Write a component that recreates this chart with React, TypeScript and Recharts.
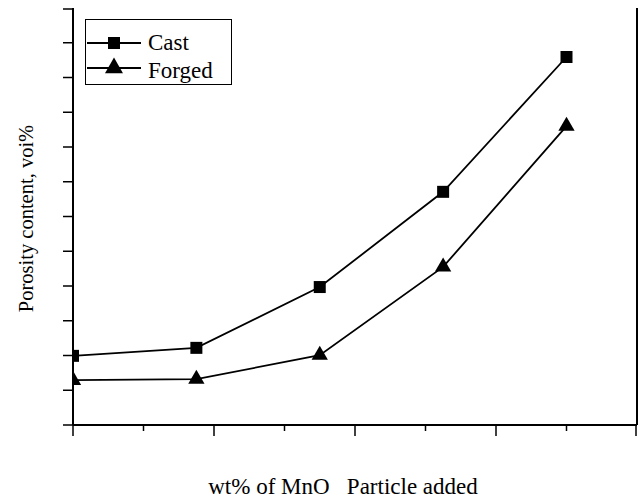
import { Legend, Line, LineChart, Symbols, XAxis, YAxis } from "recharts";

// wt% of MnO added (x) and porosity content (y)
const wtPct = [0, 1.75, 3.5, 5.25, 7];
const castPorosity = [1.99, 2.22, 3.97, 6.71, 10.59];
const forgedPorosity = [1.29, 1.32, 2.01, 4.55, 8.6];
const xTicks = [0, 1, 2, 3, 4, 5, 6, 7, 8];
const yTicks = [0, 1, 2, 3, 4, 5, 6, 7, 8, 9, 10, 11, 12];

const data = wtPct.map((x, i) => ({
  x,
  cast: castPorosity[i],
  forged: forgedPorosity[i],
}));

const FONT = "'Liberation Serif', 'Times New Roman', serif";
const txt = { fontFamily: FONT, fill: "#000" };

const squareDot = (p: any) => (
  <Symbols key={`s${p.index}`} cx={p.cx} cy={p.cy} type="square" size={144} fill="#000" />
);
const triangleDot = (p: any) => (
  <Symbols key={`t${p.index}`} cx={p.cx} cy={p.cy} type="triangle" size={115} fill="#000" />
);

// tick marks drawn by hand so major/minor lengths can differ
const BottomTick = (p: any) => {
  const major = p.payload.value % 2 === 0;
  return <line x1={p.x} x2={p.x} y1={p.y} y2={p.y + (major ? 11 : 6)} stroke="#000" strokeWidth={1.5} />;
};
const TopTick = (p: any) => <line x1={p.x} x2={p.x} y1={p.y - 2} y2={p.y} stroke="#000" strokeWidth={1} />;
const LeftTick = (p: any) => <line x1={p.x - 10} x2={p.x} y1={p.y} y2={p.y} stroke="#000" strokeWidth={1.5} />;
const RightTick = (p: any) => <line x1={p.x} x2={p.x + 4} y1={p.y} y2={p.y} stroke="#000" strokeWidth={1.5} />;

const LegendBox = ({ payload }: any) => (
  <svg width={148} height={66} style={{ display: "block" }}>
    <rect x={0.5} y={0.5} width={146} height={65} fill="#fff" stroke="#000" strokeWidth={1} />
    {(payload ?? []).map((e: any, i: number) => {
      const cy = i === 0 ? 24 : 49;
      return (
        <g key={e.value}>
          <line x1={2} x2={56} y1={cy} y2={cy} stroke="#000" strokeWidth={1.8} />
          <Symbols
            cx={29}
            cy={cy}
            type={i === 0 ? "square" : "triangle"}
            size={i === 0 ? 144 : 140}
            fill="#000"
          />
          <text x={63} y={i === 0 ? 31 : 59} fontSize={23} style={txt}>
            {e.value}
          </text>
        </g>
      );
    })}
  </svg>
);

const axisLine = { stroke: "#000", strokeWidth: 2 };

export default function App() {
  return (
    <div style={{ position: "absolute", left: 0, top: 0, background: "#fff", fontFamily: FONT }}>
      <LineChart width={640} height={499} data={data} margin={{ top: 8, right: 0, bottom: 0, left: 0 }}>
        <XAxis
          dataKey="x"
          type="number"
          domain={[0, 8]}
          ticks={xTicks}
          allowDataOverflow
          height={74}
          axisLine={axisLine}
          tickLine={false}
          tickSize={0}
          tickMargin={0}
          tick={BottomTick}
          label={(props: any) => {
            const vb = props.viewBox;
            return (
              <text
                x={vb.x + vb.width / 2 - 12}
                y={494}
                textAnchor="middle"
                fontSize={23}
                style={{ ...txt, whiteSpace: "pre" }}
              >
                {"wt% of MnO   Particle added"}
              </text>
            );
          }}
        />
        <XAxis
          xAxisId="top"
          orientation="top"
          type="number"
          domain={[0, 8]}
          ticks={xTicks}
          height={0}
          axisLine={axisLine}
          tickLine={false}
          tickSize={0}
          tickMargin={0}
          tick={TopTick}
        />
        <YAxis
          type="number"
          domain={[0, 12]}
          ticks={yTicks}
          width={73}
          axisLine={axisLine}
          tickLine={false}
          tickSize={0}
          tickMargin={0}
          tick={LeftTick}
          label={(props: any) => {
            const vb = props.viewBox;
            const cx = 33;
            const cy = vb.y + vb.height / 2 + 2;
            return (
              <text
                x={cx}
                y={cy}
                transform={`rotate(-90, ${cx}, ${cy})`}
                textAnchor="middle"
                fontSize={20.5}
                style={txt}
              >
                Porosity content, voi%
              </text>
            );
          }}
        />
        <YAxis
          yAxisId="right"
          orientation="right"
          type="number"
          domain={[0, 12]}
          ticks={yTicks}
          width={3}
          axisLine={axisLine}
          tickLine={false}
          tickSize={0}
          tickMargin={0}
          tick={RightTick}
        />
        <Legend
          layout="horizontal"
          verticalAlign="middle"
          align="center"
          content={<LegendBox />}
          wrapperStyle={{ position: "absolute", left: 85, top: 19, width: 148, height: 66 }}
        />
        <Line
          dataKey="cast"
          name="Cast"
          stroke="#000"
          strokeWidth={1.8}
          dot={squareDot}
          activeDot={false}
          isAnimationActive={false}
        />
        <Line
          dataKey="forged"
          name="Forged"
          stroke="#000"
          strokeWidth={1.8}
          dot={triangleDot}
          activeDot={false}
          isAnimationActive={false}
        />
      </LineChart>
    </div>
  );
}
